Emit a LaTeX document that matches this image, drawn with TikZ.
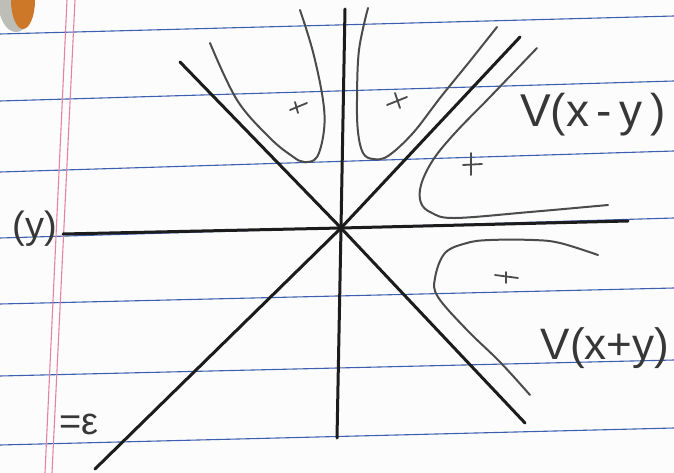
\documentclass[tikz,border=0pt]{standalone}
\usepackage{fontspec}
\setmainfont{Liberation Sans}
\definecolor{paper}{RGB}{252,252,252}
\definecolor{ruleblue}{RGB}{60,95,175}
\definecolor{marginpink}{RGB}{228,130,165}
\definecolor{ink}{RGB}{28,28,28}
\definecolor{pencil}{RGB}{75,75,75}
\definecolor{labelink}{RGB}{55,55,55}
\definecolor{blobor}{RGB}{205,120,40}
\definecolor{blobrim}{RGB}{190,190,185}
\begin{document}
\begin{tikzpicture}[x=1pt,y=-1pt,
  rule/.style={draw=ruleblue,line width=1.1pt},
  margin/.style={draw=marginpink,line width=1.1pt},
  axis/.style={draw=ink,line width=3pt,line cap=round},
  curve/.style={draw=pencil,line width=2pt,line cap=round,line join=round},
  plusmark/.style={draw=pencil,line width=1.8pt,line cap=round},
  lbl/.style={text=labelink,inner sep=0pt}]
\useasboundingbox (0,0) rectangle (674,473);
\fill[paper] (0,0) rectangle (674,473);
\clip (0,0) rectangle (674,473);
% blob in the corner
\fill[blobrim] (16,0) ellipse (18 and 32);
\fill[blobor] (23,0) ellipse (12 and 29);
% ruled lines
\draw[rule] (0,34) -- (674,16);
\draw[rule] (0,101) -- (674,81);
\draw[rule] (0,172) -- (674,151);
\draw[rule] (0,238) -- (674,218);
\draw[rule] (0,304) -- (674,288);
\draw[rule] (0,376) -- (674,360);
\draw[rule] (0,445) -- (674,428);
% margin
\draw[margin] (67,0) -- (45,473);
\draw[margin] (75,0) -- (52,473);
% axes
\coordinate (O) at (341,228);
\coordinate (hl) at (63,234);
\coordinate (hr) at (628,221);
\coordinate (vt) at (345,9);
\coordinate (vb) at (337,438);
\coordinate (d1a) at (180,62);
\coordinate (d1b) at (525,423);
\coordinate (d2a) at (95,469);
\coordinate (d2b) at (520,37);
\draw[axis] (hl) -- (O) -- (hr);
\draw[axis] (vt) -- (O) -- (vb);
\draw[axis] (d1a) -- (O) -- (d1b);
\draw[axis] (d2a) -- (O) -- (d2b);
% hyperbola branches
\draw[curve] plot[smooth,tension=0.6] coordinates {(210,43) (237,100) (270,138) (292,156) (304,162) (317,157) (324,130) (323,100) (313,52) (300,10)};
\draw[curve] plot[smooth,tension=0.6] coordinates {(368,8) (359,50) (357,100) (358,132) (363,153) (373,159) (388,156) (413,133) (440,98) (470,61) (497,27)};
\draw[curve] plot[smooth,tension=0.6] coordinates {(537,48) (490,97) (455,133) (433,160) (421,185) (421,203) (432,213) (455,218) (530,212) (608,205)};
\draw[curve] plot[smooth,tension=0.6] coordinates {(598,255) (560,243) (533,240) (490,240) (467,243) (445,253) (435,278) (438,297) (467,330) (500,362) (530,395)};
% plus marks
\draw[plusmark] (290,110) -- (307,103) (295,102) -- (298,113);
\draw[plusmark] (387,105) -- (407,97) (395,93) -- (400,108);
\draw[plusmark] (463,165) -- (482,164) (471,153) -- (471,175);
\draw[plusmark] (495,275) -- (518,278) (506,272) -- (506,283);
% labels
\node[lbl,font=\fontsize{46}{46}\selectfont] (vxmy) at (593,115) {V(x\,-\,y\,)};
\node[lbl,font=\fontsize{44}{44}\selectfont] (vxpy) at (605,348) {V(x+y)};
\node[lbl,font=\fontsize{38}{38}\selectfont] (ylab) at (35,229) {(y)};
\node[lbl,font=\fontsize{38}{38}\selectfont] (eps) at (79,424) {=ε};
\end{tikzpicture}
\end{document}
